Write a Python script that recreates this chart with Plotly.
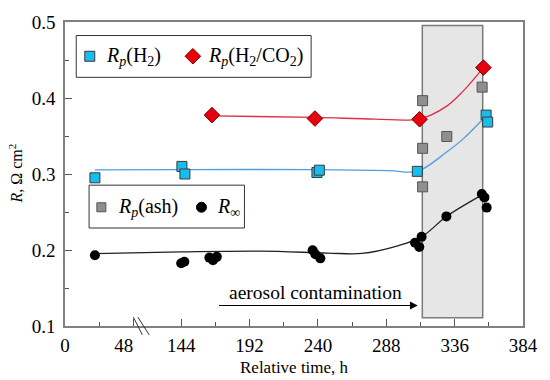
import plotly.graph_objects as go

# ---------------- data (real hours, resistance in Ohm cm^2) ----------------
h2_t = [21, 144.5, 146.6, 239.3, 241, 309.8, 358.1, 359.2]
h2_r = [0.295, 0.310, 0.300, 0.302, 0.305, 0.3035, 0.3775, 0.3684]

co2_t = [165.6, 237.9, 311.4, 356.2]
co2_r = [0.3775, 0.373, 0.372, 0.440]

ash_t = [313.5, 313.5, 313.5, 330.5, 355.3]
ash_r = [0.3965, 0.3338, 0.2831, 0.3494, 0.4143]

inf_t = [21, 144, 146.2, 163.8, 166.3, 169, 236.3, 238.2, 241.7,
         308.2, 311.2, 312.8, 330.2, 355.1, 356.9, 358.5]
inf_r = [0.193, 0.1825, 0.1845, 0.190, 0.1866, 0.191, 0.1996, 0.1944, 0.189,
         0.2095, 0.204, 0.2173, 0.2442, 0.2737, 0.2692, 0.2558]

# fitted trend lines (knots)
fit_h2_t = [21, 144, 240, 290, 309.8, 330.2, 341.8, 354.6]
fit_h2_r = [0.3055, 0.3058, 0.3058, 0.3045, 0.3035, 0.3286, 0.3459, 0.3697]

fit_co2_t = [165.6, 238, 280, 311.4, 330.2, 341.8, 356.2]
fit_co2_r = [0.3765, 0.3745, 0.3722, 0.3725, 0.389, 0.4087, 0.440]

fit_inf_t = [21, 144, 200, 246.8, 271, 295.4, 312.8, 330.2, 355.3]
fit_inf_r = [0.1952, 0.1975, 0.1985, 0.196, 0.1955, 0.2052, 0.2173, 0.244, 0.2725]

# aerosol exposure window and arrow
window_t = [313.3, 355.7]
window_r = [0.1108, 0.4953]
arrow_t = [169.5, 310.1]
arrow_r = 0.127

# axis ticks (with a break between 48 h and 144 h)
BREAK_OFFSET = 62.4
major_ticks = [0, 48, 144, 192, 240, 288, 336, 384]
major_labels = ["0", "48\u00a0\u00a0\u00a0\u00a0", "144", "192", "240", "288", "336", "384"]
minor_ticks = [24, 168, 216, 264, 312, 360]


def ax_x(values):
    """map real hours onto the broken axis"""
    return [v + BREAK_OFFSET if v <= 48 else v for v in values]


FONT = "Liberation Serif, Times New Roman, serif"
BLUE = "#17bdee"
RED = "#e8000b"
GREY = "#8f8f8f"
EDGE = "#3a3a3a"

fig = go.Figure()

# fit lines
fig.add_trace(go.Scatter(x=ax_x(fit_h2_t), y=fit_h2_r, mode="lines",
                         line=dict(color="#4d9ee3", width=1.3, shape="spline", smoothing=1.0),
                         hoverinfo="skip", showlegend=False))
fig.add_trace(go.Scatter(x=ax_x(fit_co2_t), y=fit_co2_r, mode="lines",
                         line=dict(color="#dc2f48", width=1.3, shape="spline", smoothing=1.0),
                         hoverinfo="skip", showlegend=False))
fig.add_trace(go.Scatter(x=ax_x(fit_inf_t), y=fit_inf_r, mode="lines",
                         line=dict(color="#222222", width=1.3, shape="spline", smoothing=1.0),
                         hoverinfo="skip", showlegend=False))

# markers
fig.add_trace(go.Scatter(x=ax_x(ash_t), y=ash_r, mode="markers", showlegend=False,
                         marker=dict(symbol="square", size=10, color=GREY,
                                     line=dict(color="#555555", width=1))))
fig.add_trace(go.Scatter(x=ax_x(h2_t), y=h2_r, mode="markers", showlegend=False,
                         marker=dict(symbol="square", size=10, color=BLUE,
                                     line=dict(color=EDGE, width=1))))
fig.add_trace(go.Scatter(x=ax_x(co2_t), y=co2_r, mode="markers", showlegend=False,
                         marker=dict(symbol="diamond", size=12, color=RED,
                                     line=dict(color="#7a0000", width=1))))
fig.add_trace(go.Scatter(x=ax_x(inf_t), y=inf_r, mode="markers", showlegend=False,
                         marker=dict(symbol="circle", size=10, color="black",
                                     line=dict(color="black", width=0))))

# legend glyphs on an invisible overlay axis (paper-like units 0..1)
leg_x = [0.0541, 0.2792, 0.0794, 0.298]
leg_y = [0.8873, 0.8873, 0.3906, 0.3906]
leg_sym = ["square", "diamond", "square", "circle"]
leg_col = [BLUE, RED, GREY, "black"]
leg_edge = [EDGE, "#7a0000", "#555555", "black"]
leg_size = [10, 12, 9, 10]
for i in range(4):
    fig.add_trace(go.Scatter(x=[leg_x[i]], y=[leg_y[i]], mode="markers", showlegend=False,
                             xaxis="x2", yaxis="y2", hoverinfo="skip",
                             marker=dict(symbol=leg_sym[i], size=leg_size[i], color=leg_col[i],
                                         line=dict(color=leg_edge[i], width=1))))

shapes = [
    # aerosol window
    dict(type="rect", xref="x", yref="y", x0=window_t[0], x1=window_t[1],
         y0=window_r[0], y1=window_r[1], fillcolor="#e6e6e6",
         line=dict(color="#7a7a7a", width=1.5), layer="below"),
    # legend boxes
    dict(type="rect", xref="paper", yref="paper", x0=0.0245, x1=0.5374, y0=0.818, y1=0.9555,
         fillcolor="white", line=dict(color="#333333", width=1), layer="below"),
    dict(type="rect", xref="paper", yref="paper", x0=0.0526, x1=0.3918, y0=0.3224, y1=0.4633,
         fillcolor="white", line=dict(color="#333333", width=1), layer="below"),
    # axis break marks
    dict(type="line", xref="x", yref="paper", x0=110.4, x1=116.7, y0=0.029, y1=-0.029,
         line=dict(color="#333333", width=1)),
    dict(type="line", xref="x", yref="paper", x0=113.6, x1=121.5, y0=0.029, y1=-0.029,
         line=dict(color="#333333", width=1)),
]

annotations = [
    dict(xref="paper", yref="paper", x=0.0844, y=0.8873, xanchor="left", yanchor="middle",
         showarrow=False, text="<i>R</i><sub><i>p</i></sub>(H<sub>2</sub>)",
         font=dict(family=FONT, size=20, color="black")),
    dict(xref="paper", yref="paper", x=0.3074, y=0.8873, xanchor="left", yanchor="middle",
         showarrow=False, text="<i>R</i><sub><i>p</i></sub>(H<sub>2</sub>/CO<sub>2</sub>)",
         font=dict(family=FONT, size=20, color="black")),
    dict(xref="paper", yref="paper", x=0.1104, y=0.3906, xanchor="left", yanchor="middle",
         showarrow=False, text="<i>R</i><sub><i>p</i></sub>(ash)",
         font=dict(family=FONT, size=20, color="black")),
    dict(xref="paper", yref="paper", x=0.3284, y=0.3906, xanchor="left", yanchor="middle",
         showarrow=False, text="<i>R</i><sub>∞</sub>",
         font=dict(family=FONT, size=20, color="black")),
    # arrow
    dict(xref="x", yref="y", axref="x", ayref="y", x=arrow_t[1], y=arrow_r,
         ax=arrow_t[0], ay=arrow_r, showarrow=True, arrowhead=2, arrowsize=1.3,
         arrowwidth=1.2, arrowcolor="black", text=""),
    dict(xref="paper", yref="paper", x=0.5476, y=0.1104, xanchor="center", yanchor="middle",
         showarrow=False, text="aerosol contamination",
         font=dict(family=FONT, size=19.5, color="black")),
    # axis titles
    dict(xref="paper", yref="paper", x=-0.108, y=0.5, xanchor="center", yanchor="middle",
         showarrow=False, textangle=-90, text="<i>R</i>, Ω cm<sup>2</sup>",
         font=dict(family=FONT, size=16, color="black")),
    dict(xref="paper", yref="paper", x=0.5, y=-0.136, xanchor="center", yanchor="middle",
         showarrow=False, text="Relative time, h",
         font=dict(family=FONT, size=17, color="black")),
]

fig.update_layout(
    width=550, height=380,
    margin=dict(l=65, r=23, t=18, b=54),
    paper_bgcolor="white", plot_bgcolor="rgba(0,0,0,0)",
    font=dict(family=FONT, color="black"),
    shapes=shapes, annotations=annotations,
    xaxis=dict(range=[BREAK_OFFSET, 384], tickmode="array",
               tickvals=ax_x(major_ticks), ticktext=major_labels,
               ticks="inside", ticklen=7, tickwidth=1, tickcolor="#555555",
               minor=dict(tickmode="array", tickvals=ax_x(minor_ticks), ticks="inside",
                          ticklen=4, tickcolor="#555555"),
               showline=True, linecolor="#808080", linewidth=1.5, mirror=True,
               showgrid=False, zeroline=False,
               tickfont=dict(family=FONT, size=19, color="black"),
               ticklabelstandoff=1),
    yaxis=dict(range=[0.1, 0.5], dtick=0.1, tick0=0.1, tickformat=".1f",
               ticks="inside", ticklen=7, tickwidth=1, tickcolor="#555555",
               minor=dict(dtick=0.05, ticks="inside", ticklen=4, tickcolor="#555555"),
               showline=True, linecolor="#808080", linewidth=1.5, mirror=True,
               showgrid=False, zeroline=False,
               tickfont=dict(family=FONT, size=19, color="black"),
               ticklabelstandoff=4),
    xaxis2=dict(domain=[0, 1], range=[0, 1], visible=False, anchor="y2", fixedrange=True),
    yaxis2=dict(domain=[0, 1], range=[0, 1], visible=False, anchor="x2", fixedrange=True),
)

fig.write_html("out.html", config={"displayModeBar": False},
               post_script="document.body.style.margin='0';document.body.style.padding='0';")
